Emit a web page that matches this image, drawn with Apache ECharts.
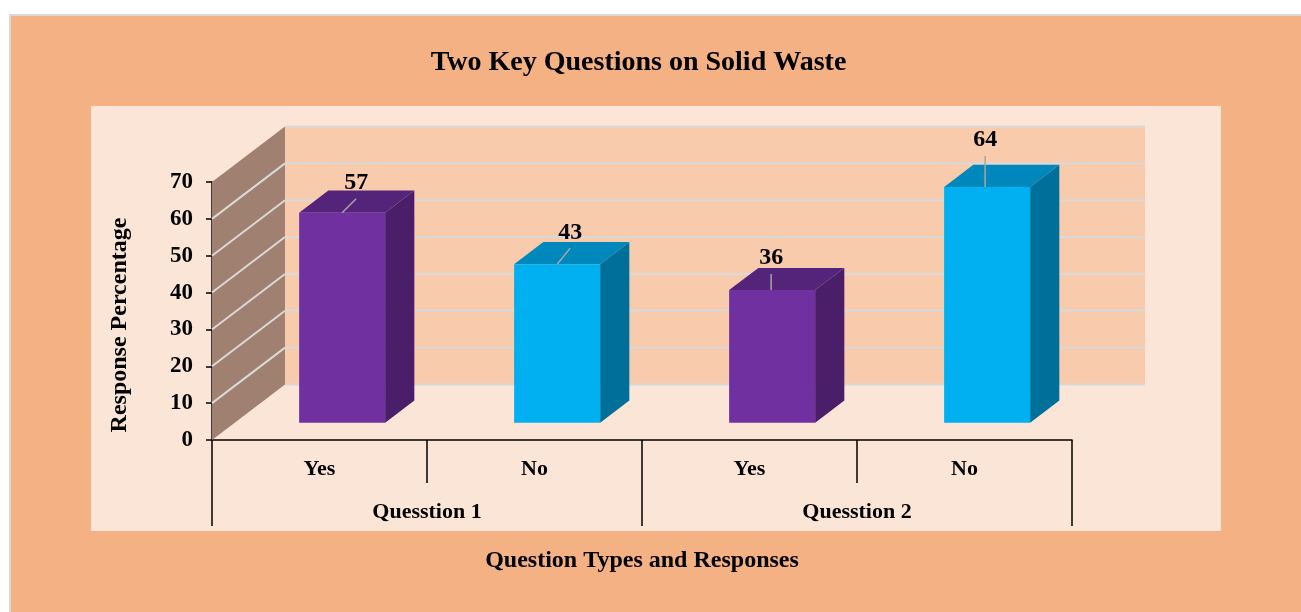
<!DOCTYPE html>
<html><head><meta charset="utf-8">
<script src="https://cdn.jsdelivr.net/npm/echarts@6/dist/echarts.min.js"></script>
<style>html,body{margin:0;padding:0;background:#fff}#c{width:1301px;height:612px}</style>
</head><body><div id="c"></div>
<script>
// ---- data ----
const responses = ['Yes', 'No', 'Yes', 'No'];
const questions = ['Quesstion 1', 'Quesstion 2'];
const values = [57, 43, 36, 64];
const yTicks = [0, 10, 20, 30, 40, 50, 60, 70];

// ---- styling / layout (not data) ----
const FONT = "'Liberation Serif', 'Times New Roman', serif";
const frontCol = ['#7030A0', '#00B0F0', '#7030A0', '#00B0F0'];
const topCol   = ['#54237A', '#0088BD', '#54237A', '#0088BD'];
const sideCol  = ['#4A1E68', '#006F99', '#4A1E68', '#006F99'];
const DX = 73, DY = -55.5;          // oblique depth vector
const F0 = 0.31, F1 = 0.71;         // bar front / back depth fractions
const BAR_FRAC = 0.4;
const labelDx = [14, 13, -1, -2];
const labelDy = [-30, -32, -32, -47];

const chart = echarts.init(document.getElementById('c'));

function renderWalls(params, api) {
  const band = api.size([1, 0])[0];
  const x0 = api.coord([0, 0])[0] - band / 2;
  const x1 = api.coord([responses.length - 1, 0])[0] + band / 2;
  const yMin = api.coord([0, yTicks[0]])[1];
  const yMax = api.coord([0, yTicks[yTicks.length - 1]])[1];
  const children = [];
  children.push({ type: 'rect', shape: { x: x0 + DX, y: yMax + DY, width: x1 - x0, height: yMin - yMax },
    style: { fill: '#F8CBAD' } });
  children.push({ type: 'polygon', shape: { points: [[x0, yMin], [x0 + DX, yMin + DY], [x0 + DX, yMax + DY], [x0, yMax]] },
    style: { fill: '#A08070' } });
  yTicks.forEach(function (t, k) {
    const y = api.coord([0, t])[1];
    children.push({ type: 'line', shape: { x1: x0 + DX, y1: y + DY, x2: x1 + DX, y2: y + DY },
      style: { stroke: '#D9D9D9', lineWidth: 2 } });
    if (k > 0 && k < yTicks.length - 1) {
      children.push({ type: 'line', shape: { x1: x0, y1: y, x2: x0 + DX, y2: y + DY },
        style: { stroke: '#D9D9D9', lineWidth: 2 } });
    }
  });
  return { type: 'group', children: children };
}

function renderBar(params, api) {
  const i = api.value(0), v = api.value(1);
  const top = api.coord([i, v]), base = api.coord([i, 0]);
  const band = api.size([1, 0])[0];
  const w = band * BAR_FRAC;
  const ox = DX * F0, oy = DY * F0;
  const dx = DX * (F1 - F0), dy = DY * (F1 - F0);
  const xl = base[0] - w / 2 + ox, xr = xl + w;
  const yb = base[1] + oy, yt = top[1] + oy;
  const cx = (xl + xr) / 2;
  const lx = cx + labelDx[i], ly = yt + labelDy[i];
  const sx = Math.abs(labelDx[i]) < 5 ? lx : cx;
  return { type: 'group', children: [
    { type: 'polygon', shape: { points: [[xr, yt], [xr + dx, yt + dy], [xr + dx, yb + dy], [xr, yb]] },
      style: { fill: sideCol[i] } },
    { type: 'polygon', shape: { points: [[xl, yt], [xr, yt], [xr + dx, yt + dy], [xl + dx, yt + dy]] },
      style: { fill: topCol[i] } },
    { type: 'rect', shape: { x: xl, y: yt, width: w, height: yb - yt },
      style: { fill: frontCol[i] } },
    { type: 'line', shape: { x1: sx, y1: yt, x2: lx, y2: ly + 16 },
      style: { stroke: '#A6A6A6', lineWidth: 1.5 } },
    { type: 'text', x: lx, y: ly,
      style: { text: String(v), fill: '#000', font: 'bold 24px ' + FONT, align: 'center', verticalAlign: 'middle' } }
  ] };
}

const labelFont = { color: '#000', fontWeight: 'bold', fontSize: 22, fontFamily: FONT };

chart.setOption({
  animation: false,
  backgroundColor: 'transparent',
  graphic: [
    { type: 'rect', z: -100, shape: { x: 10, y: 15, width: 1300, height: 600 },
      style: { fill: '#F4B183', stroke: '#D9D9D9', lineWidth: 2 } },
    { type: 'rect', z: -99, shape: { x: 91, y: 106, width: 1130, height: 425 },
      style: { fill: '#FBE5D6' } },
    { type: 'text', z: 10, x: 638.5, y: 63,
      style: { text: 'Two Key Questions on Solid Waste', fill: '#000', font: 'bold 28px ' + FONT,
        align: 'center', verticalAlign: 'middle' } },
    { type: 'text', z: 10, x: 642, y: 561,
      style: { text: 'Question Types and Responses', fill: '#000', font: 'bold 24px ' + FONT,
        align: 'center', verticalAlign: 'middle' } },
    { type: 'text', z: 10, x: 120, y: 325, rotation: Math.PI / 2,
      style: { text: 'Response Percentage', fill: '#000', font: 'bold 24px ' + FONT,
        align: 'center', verticalAlign: 'middle' } }
  ],
  grid: { left: 212, right: 229, top: 182, bottom: 172, containLabel: false },
  xAxis: [
    { type: 'category', data: responses, position: 'bottom',
      axisLine: { show: true, lineStyle: { color: '#000', width: 1.5 } },
      axisTick: { show: true, length: 43, lineStyle: { color: '#000', width: 1.5 } },
      axisLabel: Object.assign({ margin: 18 }, labelFont),
      splitLine: { show: false } },
    { type: 'category', data: questions, position: 'bottom',
      axisLine: { show: false },
      axisTick: { show: true, length: 86, lineStyle: { color: '#000', width: 1.5 } },
      axisLabel: Object.assign({ margin: 61 }, labelFont),
      splitLine: { show: false } }
  ],
  yAxis: {
    type: 'value', min: 0, max: 70, interval: 10,
    axisLine: { show: true, lineStyle: { color: '#000', width: 1.5 } },
    axisTick: { show: true, length: 6, lineStyle: { color: '#000', width: 1.5 } },
    axisLabel: Object.assign({}, labelFont, { margin: 19, fontSize: 23 }),
    splitLine: { show: false }
  },
  series: [
    { type: 'custom', name: 'walls', xAxisIndex: 0, z: 1, silent: true,
      renderItem: renderWalls, data: [[0, 0]], clip: false },
    { type: 'custom', name: 'bars', xAxisIndex: 0, z: 3,
      renderItem: renderBar, encode: { x: 0, y: 1 }, clip: false,
      data: values.map(function (v, i) { return [i, v]; }) }
  ]
});
</script></body></html>
